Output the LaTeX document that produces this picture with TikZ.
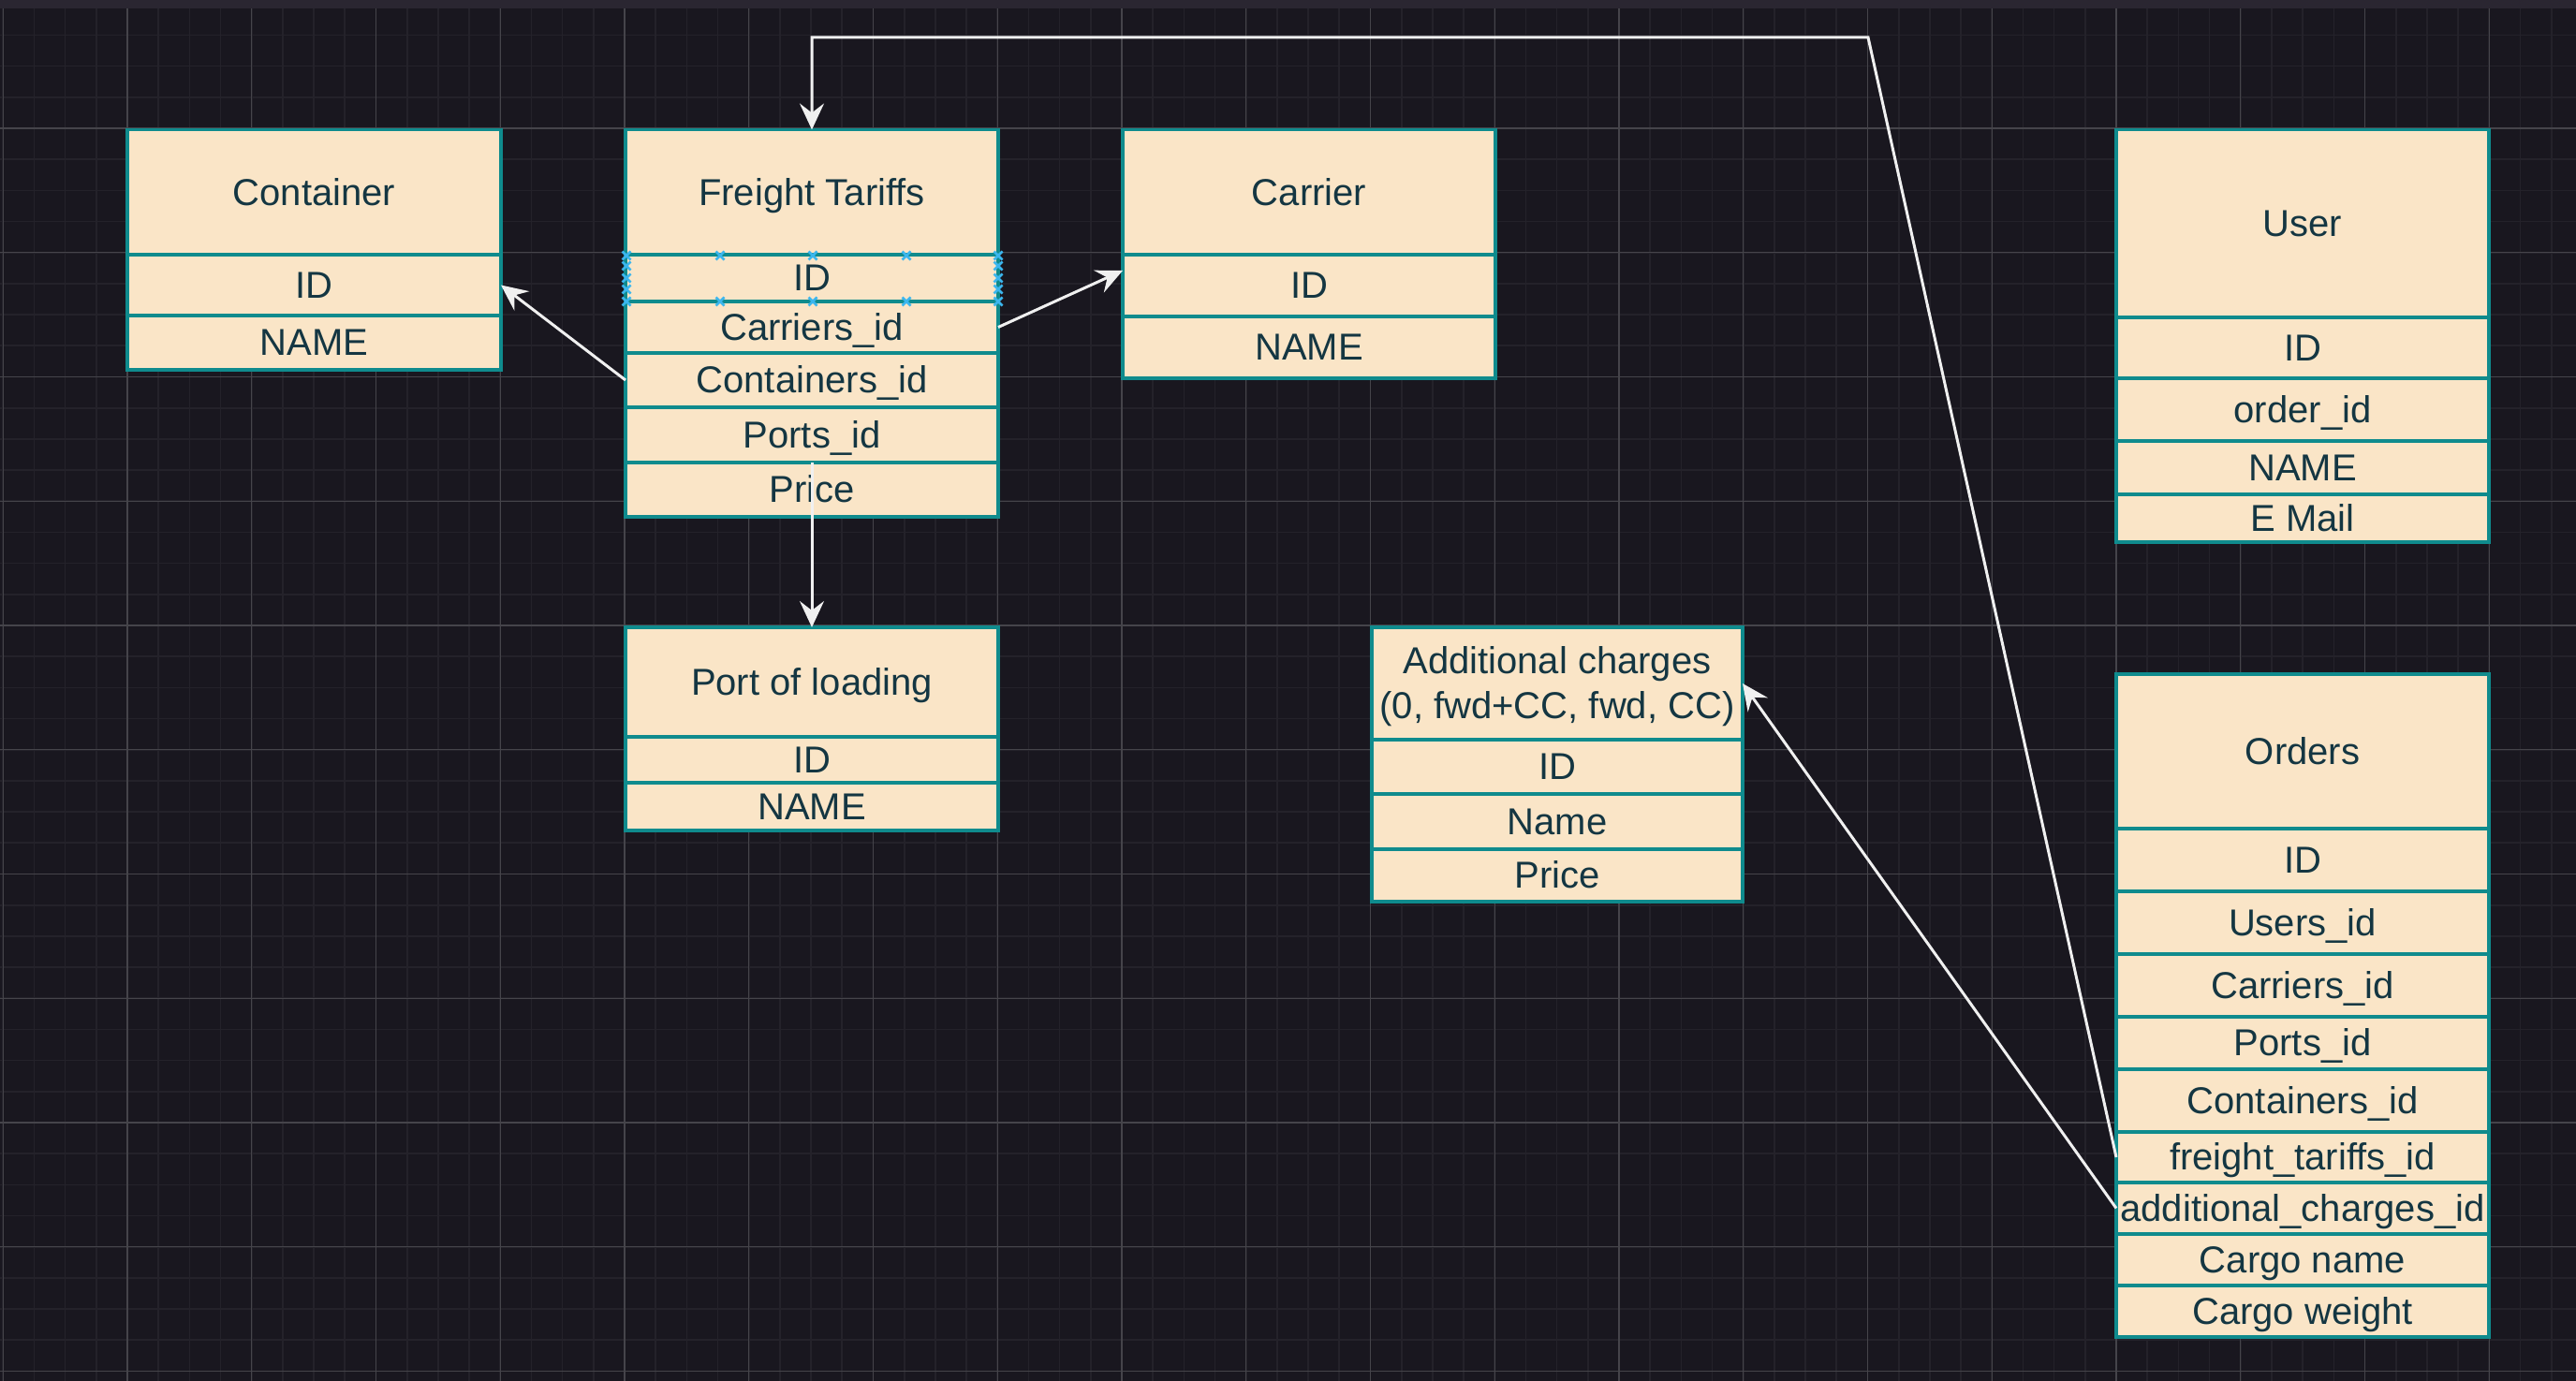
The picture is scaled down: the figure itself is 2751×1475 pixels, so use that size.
\documentclass[tikz,border=0pt]{standalone}
\usepackage{fontspec}
\setmainfont{Liberation Sans}
\usetikzlibrary{arrows.meta}
\definecolor{bg}{HTML}{19171F}
\definecolor{topbar}{HTML}{2A2631}
\definecolor{gridminor}{HTML}{24222A}
\definecolor{gridmajor}{HTML}{45444A}
\definecolor{cellfill}{HTML}{FAE5C7}
\definecolor{cellline}{HTML}{0F8B8D}
\definecolor{celltext}{HTML}{143642}
\definecolor{conncol}{HTML}{F0F0F0}
\definecolor{markercol}{HTML}{3BB6EE}
\tikzset{
  cellbox/.style={draw=cellline, fill=cellfill, line width=0.8pt, text=celltext,
    font=\fontsize{10}{12}\selectfont, inner sep=0pt, outer sep=0pt,
    text height=9.05pt, text depth=2.12pt},
  celltxt/.style={text=celltext, font=\fontsize{10}{12}\selectfont, inner sep=0pt},
  conn/.style={draw=conncol, line width=0.75pt, -{Stealth[length=7pt,width=6.5pt,inset=2.5pt]}},
  gminor/.style={draw=gridminor, line width=0.42pt},
  gmajor/.style={draw=gridmajor, line width=0.28pt},
  markerx/.style={draw=markercol, line width=0.65pt}
}
\newcommand\cell[6]{\node[cellbox, minimum width={(#4-#2)*0.25pt}, minimum height={(#5-#3)*0.25pt}] (#1) at ({(#2+#4)/2},{(#3+#5)/2}) {#6};}
\newcommand\bluex[2]{\draw[markerx] (#1-4.5,#2-4.5) -- (#1+4.5,#2+4.5) (#1-4.5,#2+4.5) -- (#1+4.5,#2-4.5);}
\begin{document}
\begin{tikzpicture}[x=0.25pt, y=-0.25pt]
\useasboundingbox (0,0) rectangle (2751,1475);
\fill[bg] (0,0) rectangle (2751,1475);
% grid
\foreach \k in {0,...,82} {\pgfmathsetmacro\xx{3.25+33.1875*\k}\draw[gminor] (\xx,0) -- (\xx,1475);}
\foreach \k in {0,...,44} {\pgfmathsetmacro\yy{4.25+33.1875*\k}\draw[gminor] (0,\yy) -- (2751,\yy);}
\foreach \k in {0,...,20} {\pgfmathsetmacro\xx{3.25+132.75*\k}\draw[gmajor] (\xx,0) -- (\xx,1475);}
\foreach \k in {0,...,11} {\pgfmathsetmacro\yy{4.25+132.75*\k}\draw[gmajor] (0,\yy) -- (2751,\yy);}
\fill[topbar] (0,0) rectangle (2751,9);

% Container
\cell{c-h}{136}{138.5}{535}{272}{Container}
\cell{c-id}{136}{272}{535}{337}{ID}
\cell{c-name}{136}{337}{535}{395}{NAME}
% Freight Tariffs
\cell{ft-h}{668}{138.5}{1066}{272}{Freight Tariffs}
\cell{ft-id}{668}{272}{1066}{322}{ID}
\cell{ft-car}{668}{322}{1066}{377}{Carriers\_id}
\cell{ft-cont}{668}{377}{1066}{435}{Containers\_id}
\cell{ft-ports}{668}{435}{1066}{494}{Ports\_id}
\cell{ft-price}{668}{494}{1066}{552}{Price}
% Carrier
\cell{car-h}{1199}{138.5}{1597}{272}{Carrier}
\cell{car-id}{1199}{272}{1597}{338}{ID}
\cell{car-name}{1199}{338}{1597}{404}{NAME}
% User
\cell{u-h}{2260}{138.5}{2658}{339}{User}
\cell{u-id}{2260}{339}{2658}{404}{ID}
\cell{u-ord}{2260}{404}{2658}{471}{order\_id}
\cell{u-name}{2260}{471}{2658}{528}{NAME}
\cell{u-mail}{2260}{528}{2658}{579}{E Mail}
% Port of loading
\cell{p-h}{668}{670}{1066}{787}{Port of loading}
\cell{p-id}{668}{787}{1066}{836}{ID}
\cell{p-name}{668}{836}{1066}{887}{NAME}
% Additional charges
\cell{ac-h}{1465}{670}{1861}{790}{}
\node[celltxt, align=center, anchor=base] (ac-title) at (1663,767) {Additional charges\\(0, fwd+CC, fwd, CC)};
\cell{ac-id}{1465}{790}{1861}{848}{ID}
\cell{ac-name}{1465}{848}{1861}{907}{Name}
\cell{ac-price}{1465}{907}{1861}{963}{Price}
% Orders
\cell{o-h}{2260}{720}{2658}{885}{Orders}
\cell{o-id}{2260}{885}{2658}{952}{ID}
\cell{o-users}{2260}{952}{2658}{1019}{Users\_id}
\cell{o-car}{2260}{1019}{2658}{1086}{Carriers\_id}
\cell{o-ports}{2260}{1086}{2658}{1142}{Ports\_id}
\cell{o-cont}{2260}{1142}{2658}{1209}{Containers\_id}
\cell{o-ft}{2260}{1209}{2658}{1263}{freight\_tariffs\_id}
\cell{o-ac}{2260}{1263}{2658}{1318}{additional\_charges\_id}
\cell{o-cname}{2260}{1318}{2658}{1373}{Cargo name}
\cell{o-cw}{2260}{1373}{2658}{1428}{Cargo weight}

% selection markers on Freight Tariffs ID row
\foreach \mx in {669,769,868,968,1066} {\bluex{\mx}{273}\bluex{\mx}{322}}
\foreach \my in {284,297,309} {\bluex{669}{\my}\bluex{1066}{\my}}

% connectors
\coordinate (k1) at (1995,40);
\draw[conn] (ft-cont.west) -- (c-id.east);
\draw[conn] (ft-car.east) -- ([yshift=4pt]car-id.west);
\draw[conn] (ft-ports.south) -- (p-h.north);
\draw[conn] (o-ft.west) -- (k1) -| (ft-h.north);
\draw[conn] (o-ac.west) -- (ac-h.east);
\end{tikzpicture}
\end{document}
